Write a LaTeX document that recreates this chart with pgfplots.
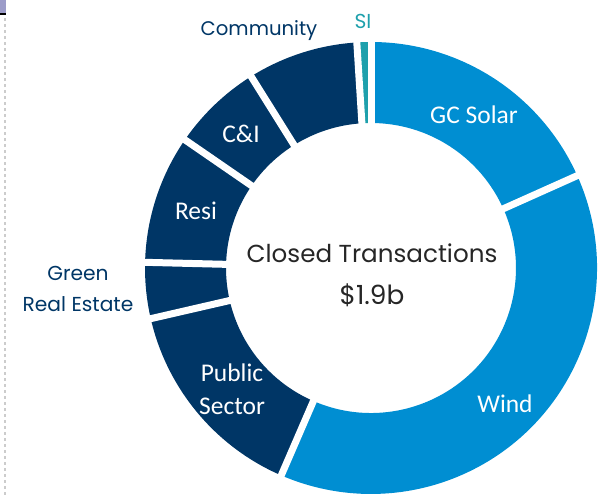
\documentclass[border=0pt]{standalone}
\usepackage{pgfplots}
\pgfplotsset{compat=1.18}
\usepackage{fontspec}
\setmainfont{Poppins}
\newfontfamily\calfont{Carlito}
\definecolor{lblue}{RGB}{0,142,210}
\definecolor{navy}{RGB}{0,54,102}
\definecolor{teal}{RGB}{30,160,172}
\definecolor{dgray}{RGB}{38,38,38}
\newcommand\cx{7.42}
\newcommand\cy{4.54}
\newcommand\Ro{4.52}
\newcommand\Ri{2.90}
\gdef\cum{0}
% #1 colour, #2 share in percent (slices run clockwise from 12 o'clock)
\newcommand\slice[2]{%
  \pgfmathsetmacro\aA{90-3.6*\cum}%
  \pgfmathsetmacro\aB{90-3.6*(\cum+#2)}%
  \edef\doslice{\noexpand\fill[#1] (axis cs:{\cx+\Ro*cos(\aA)},{\cy+\Ro*sin(\aA)})
    arc[start angle=\aA, end angle=\aB, radius=\Ro cm]
    -- (axis cs:{\cx+\Ri*cos(\aB)},{\cy+\Ri*sin(\aB)})
    arc[start angle=\aB, end angle=\aA, radius=\Ri cm] -- cycle;}%
  \doslice
  \pgfmathsetmacro\newcum{\cum+#2}%
  \xdef\cum{\newcum}%
}
\newcommand\gap[1]{%
  \pgfmathsetmacro\aG{90-3.6*#1}%
  \edef\dogap{\noexpand\draw[white, line width=0.14cm]
    (axis cs:{\cx+(\Ri-0.1)*cos(\aG)},{\cy+(\Ri-0.1)*sin(\aG)})
    -- (axis cs:{\cx+(\Ro+0.1)*cos(\aG)},{\cy+(\Ro+0.1)*sin(\aG)});}%
  \dogap
}
\begin{document}
\begin{tikzpicture}
\path[use as bounding box] (0,0) rectangle (12.14,9.9);
\draw[gray!40, line width=0.05cm, dash pattern=on 0.06cm off 0.06cm] (0.1,0) -- (0.1,9.55);
\fill[gray!70!blue!60] (0,9.62) rectangle (0.12,9.9);
\draw[black, line width=0.04cm] (0,9.62) -- (0.12,9.62);
\begin{axis}[
  at={(0,0)}, anchor=south west,
  x=1cm, y=1cm,
  xmin=0, xmax=12.14, ymin=0, ymax=9.9,
  hide axis, clip=false,
]
% shares of the $1.9b, in percent
\slice{lblue}{18.3}% GC Solar
\slice{lblue}{38.2}% Wind
\slice{navy}{14.9}% Public Sector
\slice{navy}{4.0}% Green Real Estate
\slice{navy}{9.2}% Resi
\slice{navy}{6.5}% C&I
\slice{navy}{7.9}% Community
\slice{teal}{1.0}% SI
\gap{0}\gap{18.3}\gap{56.5}\gap{71.4}\gap{75.4}\gap{84.6}\gap{91.1}\gap{99.0}
% labels inside the ring
\node[white, font=\calfont\fontsize{14.5}{16}\selectfont] at (axis cs:9.48,7.60) {GC Solar};
\node[white, font=\calfont\fontsize{14.5}{16}\selectfont] at (axis cs:10.10,1.82) {Wind};
\node[white, font=\calfont\fontsize{14.5}{16}\selectfont, align=center] at (axis cs:4.64,2.12) {Public\\[3pt]Sector};
\node[white, font=\calfont\fontsize{14.5}{16}\selectfont] at (axis cs:3.92,5.68) {Resi};
\node[white, font=\calfont\fontsize{14.5}{16}\selectfont] at (axis cs:4.82,7.22) {C\&I};
% labels outside
\node[navy, font=\fontsize{11.2}{13}\selectfont] at (axis cs:5.18,9.28) {Community};
\node[teal, font=\fontsize{11.5}{13}\selectfont] at (axis cs:7.26,9.48) {SI};
\node[navy, font=\fontsize{11.5}{17.5}\selectfont, align=center] at (axis cs:1.56,4.12) {Green\\Real Estate};
% centre text
\node[dgray, font=\fontsize{14}{24}\selectfont, align=center] at (axis cs:7.44,4.40) {Closed Transactions\\\fontsize{15}{24}\selectfont\$1.9b};
\end{axis}
\end{tikzpicture}
\end{document}
